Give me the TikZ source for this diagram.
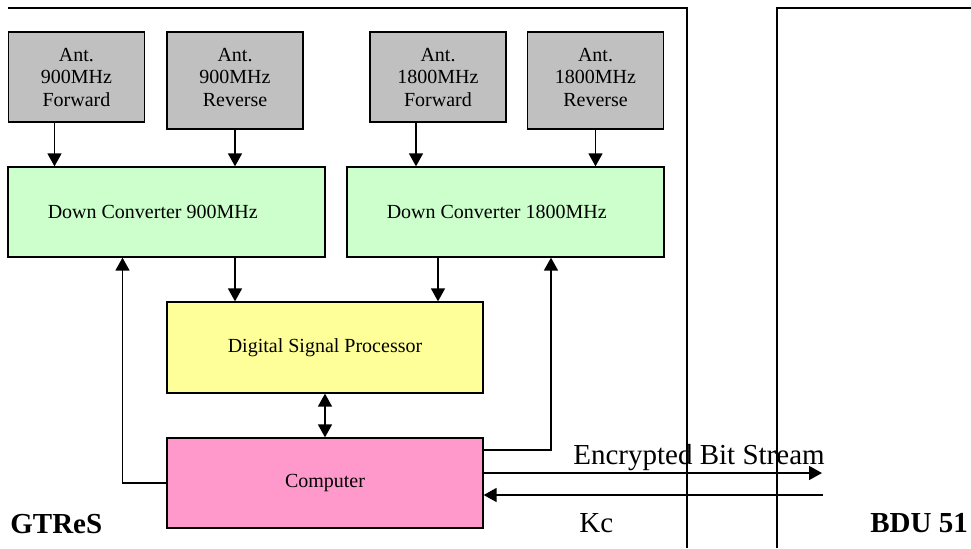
\documentclass[tikz,border=0pt]{standalone}
\usepackage{fontspec}
\setmainfont{Liberation Serif}
\usetikzlibrary{arrows.meta}

\definecolor{antgray}{HTML}{C0C0C0}
\definecolor{convgreen}{HTML}{CCFFCC}
\definecolor{dspyellow}{HTML}{FFFF99}
\definecolor{comppink}{HTML}{FF99CC}

\begin{document}
\begin{tikzpicture}[x=0.5pt,y=-0.5pt,
    small/.style={font=\fontsize{10}{11.3}\selectfont},
    big/.style={font=\fontsize{14.5}{17}\selectfont,inner sep=0pt,anchor=base west},
    box/.style={draw,line width=0.65pt,inner sep=0pt,align=center,small},
    ant/.style={box,fill=antgray,minimum width=68pt},
    unit/.style={box,minimum width=158.5pt,minimum height=45pt},
    wire/.style={line width=0.8pt},
    sig/.style={wire,-{Triangle[length=6.5pt,width=7pt]}},
    frame/.style={line width=0.8pt}]
    \useasboundingbox (0,0) rectangle (971,548);

    % site borders
    \draw[frame] (8,8) -- (687,8) -- (687,548);
    \draw[frame] (777,548) -- (777,8) -- (971,8);

    % antennas
    \foreach \name/\x/\h/\deep/\txt in {antA/76.5/90/0/{Ant.\\900MHz\\Forward},
                                        antB/235/97/3.5/{Ant.\\900MHz\\Reverse},
                                        antC/438/90/0/{Ant.\\1800MHz\\Forward},
                                        antD/595.5/97/3.5/{Ant.\\1800MHz\\Reverse}}{
        \node[ant,minimum height={\h*0.5pt},text depth=\deep pt] (\name) at (\x,{32+\h/2}) {\txt};
    }

    % converters, DSP, computer
    \node[unit,fill=convgreen,label={[small,anchor=west,inner sep=0pt,xshift=20pt]west:Down Converter 900MHz}] (dcLow) at (166.5,212) {};
    \node[unit,fill=convgreen,label={[small,anchor=west,inner sep=0pt,xshift=20pt]west:Down Converter 1800MHz}] (dcHigh) at (505.5,212) {};
    \node[unit,fill=dspyellow,minimum width=158pt,minimum height=45.5pt] (dsp) at (325,347.5) {Digital Signal Processor};
    \node[unit,fill=comppink,minimum width=158pt] (comp) at (325,483) {Computer};

    \draw[sig] ([xshift=-11pt]antA.south) -- ([xshift=-11pt]antA.south |- dcLow.north);
    \draw[sig] (antB.south) -- (antB.south |- dcLow.north);
    \draw[sig] ([xshift=-11pt]antC.south) -- ([xshift=-11pt]antC.south |- dcHigh.north);
    \draw[sig] (antD.south) -- (antD.south |- dcHigh.north);

    \draw[sig] (antB.south |- dcLow.south) -- (antB.south |- dsp.north);
    \draw[sig] (antC.south |- dcHigh.south) -- (antC.south |- dsp.north);
    \draw[wire,{Triangle[length=6.5pt,width=7pt]}-{Triangle[length=6.5pt,width=7pt]}] (dsp) -- (comp);

    \draw[sig] (comp.west) -| ([xshift=-22pt]dcLow.south);
    \draw[sig] ([yshift=16.5pt]comp.east) -| ([xshift=22.75pt]dcHigh.south);

    % link to the BDU
    \coordinate (encEnd) at (822,473);
    \coordinate (kcStart) at (823,495);
    \draw[sig] ([yshift=5pt]comp.east) -- (encEnd);
    \draw[sig] (kcStart) -- ([yshift=-6pt]comp.east);

    \node[big] (encLabel) at (573,464) {Encrypted Bit Stream};
    \node[big] (kcLabel) at (579,532) {Kc};
    \node[big] (gtres) at (10,533) {\textbf{GTReS}};
    \node[big] (bdu) at (870,532) {\textbf{BDU 51}};
\end{tikzpicture}
\end{document}
